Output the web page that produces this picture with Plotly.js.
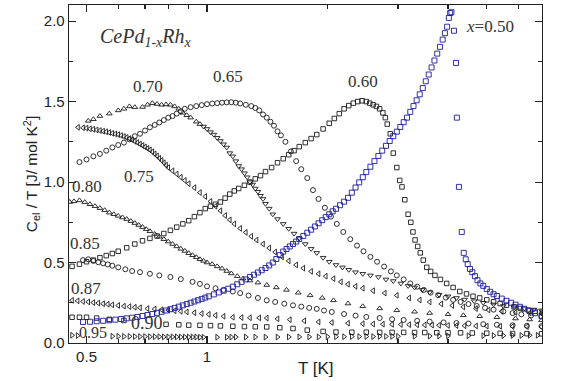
<!DOCTYPE html>
<html>
<head>
<meta charset="utf-8">
<script src="https://cdn.plot.ly/plotly-3.0.1.min.js"></script>
<style>html,body{margin:0;padding:0;background:#fff;}#chart{width:566px;height:381px;}</style>
</head>
<body>
<div id="chart"></div>
<script>
// x = 0.50 (blue squares)
const T_050 = [0.49,0.51,0.53,0.55,0.57,0.59,0.61,0.63,0.65,0.67,0.69,0.71,0.73,0.75,0.77,0.79,0.81,0.83,0.85,0.87,0.89,0.91,0.93,0.95,0.97,0.99,1.01,1.04,1.07,1.10,1.13,1.16,1.19,1.22,1.25,1.28,1.31,1.34,1.37,1.40,1.43,1.46,1.49,1.52,1.55,1.58,1.61,1.64,1.67,1.70,1.74,1.78,1.82,1.86,1.90,1.94,1.98,2.02,2.06,2.10,2.15,2.20,2.25,2.30,2.35,2.40,2.45,2.50,2.56,2.62,2.68,2.74,2.80,2.86,2.92,2.98,3.04,3.10,3.16,3.22,3.28,3.34,3.40,3.46,3.52,3.58,3.64,3.70,3.76,3.82,3.88,3.93,3.98,4.02,4.05,4.08,4.14,4.19,4.21,4.26,4.33,4.38,4.43,4.48,4.54,4.60,4.67,4.74,4.82,4.90,5.0,5.1,5.2,5.3,5.45,5.6,5.75,5.9,6.05,6.2,6.4,6.6,6.85];
const C_050 = [0.130,0.132,0.135,0.138,0.141,0.145,0.149,0.153,0.157,0.162,0.168,0.174,0.180,0.187,0.194,0.202,0.210,0.218,0.226,0.234,0.242,0.250,0.258,0.266,0.274,0.282,0.290,0.302,0.314,0.325,0.337,0.350,0.365,0.380,0.395,0.410,0.424,0.438,0.452,0.466,0.482,0.500,0.522,0.546,0.568,0.584,0.600,0.615,0.630,0.646,0.665,0.685,0.704,0.724,0.744,0.763,0.782,0.800,0.818,0.834,0.856,0.878,0.902,0.934,0.966,0.998,1.030,1.062,1.095,1.130,1.162,1.195,1.225,1.255,1.285,1.313,1.342,1.372,1.400,1.436,1.472,1.508,1.545,1.584,1.626,1.668,1.712,1.755,1.798,1.840,1.885,1.925,1.965,2.020,2.050,2.055,1.94,1.74,1.40,0.97,0.69,0.56,0.52,0.49,0.46,0.44,0.415,0.39,0.37,0.355,0.335,0.318,0.303,0.292,0.276,0.262,0.250,0.238,0.225,0.213,0.198,0.185,0.168];

// x = 0.60 (squares)
const T_060 = [0.46,0.48,0.50,0.52,0.54,0.56,0.58,0.60,0.63,0.66,0.69,0.72,0.75,0.78,0.81,0.84,0.87,0.90,0.93,0.96,0.99,1.02,1.05,1.08,1.11,1.14,1.17,1.20,1.24,1.28,1.32,1.36,1.40,1.45,1.50,1.55,1.60,1.65,1.70,1.76,1.82,1.88,1.95,2.02,2.08,2.14,2.20,2.26,2.32,2.38,2.44,2.50,2.55,2.60,2.65,2.70,2.75,2.79,2.82,2.87,2.92,2.98,3.03,3.07,3.12,3.18,3.23,3.27,3.31,3.36,3.41,3.47,3.54,3.62,3.71,3.83,3.97,4.12,4.28,4.45,4.62,4.80,5.0,5.2,5.4,5.6,5.85,6.07,6.35,6.6,6.88];
const C_060 = [0.476,0.49,0.505,0.515,0.53,0.543,0.556,0.57,0.592,0.615,0.635,0.65,0.665,0.68,0.70,0.72,0.74,0.76,0.785,0.81,0.835,0.85,0.862,0.876,0.90,0.925,0.945,0.96,0.98,1.00,1.02,1.04,1.065,1.09,1.12,1.145,1.17,1.195,1.22,1.245,1.27,1.295,1.33,1.365,1.395,1.425,1.455,1.475,1.49,1.50,1.505,1.50,1.49,1.48,1.47,1.455,1.43,1.40,1.36,1.30,1.18,1.09,1.01,0.97,0.89,0.80,0.75,0.69,0.64,0.60,0.56,0.515,0.47,0.445,0.42,0.395,0.37,0.345,0.32,0.305,0.29,0.28,0.268,0.256,0.245,0.235,0.225,0.215,0.205,0.197,0.19];

// x = 0.65 (circles)
const T_065 = [0.48,0.50,0.52,0.54,0.56,0.58,0.60,0.62,0.64,0.66,0.68,0.70,0.72,0.74,0.76,0.78,0.80,0.82,0.84,0.86,0.88,0.91,0.94,0.97,1.00,1.03,1.06,1.09,1.12,1.15,1.18,1.21,1.25,1.29,1.32,1.35,1.38,1.41,1.44,1.47,1.50,1.53,1.57,1.62,1.67,1.72,1.78,1.84,1.90,1.97,2.04,2.11,2.19,2.28,2.37,2.46,2.56,2.66,2.77,2.88,2.98,3.10,3.22,3.35,3.48,3.62,3.78,3.95,4.12,4.30,4.50,4.72,4.95,5.2,5.5,5.8,6.1,6.45,6.85];
const C_065 = [1.124,1.14,1.16,1.175,1.195,1.215,1.23,1.245,1.265,1.285,1.30,1.32,1.34,1.355,1.37,1.385,1.40,1.41,1.425,1.44,1.455,1.465,1.472,1.478,1.484,1.488,1.49,1.493,1.495,1.496,1.493,1.488,1.48,1.472,1.46,1.445,1.42,1.40,1.375,1.35,1.315,1.29,1.25,1.19,1.13,1.08,1.025,0.95,0.895,0.84,0.785,0.74,0.69,0.645,0.605,0.57,0.535,0.505,0.475,0.445,0.42,0.395,0.37,0.35,0.33,0.313,0.297,0.282,0.268,0.255,0.242,0.23,0.218,0.207,0.196,0.186,0.178,0.171,0.165];

// x = 0.70 (triangles: low-T branch and high-T branch)
const T_070a = [0.505,0.52,0.54,0.57,0.60,0.62,0.64,0.66,0.69,0.71,0.73,0.75,0.77,0.79,0.81,0.83,0.85,0.87,0.89,0.91,0.94,0.96];
const C_070a = [1.38,1.39,1.41,1.425,1.445,1.455,1.47,1.465,1.466,1.48,1.49,1.485,1.48,1.482,1.48,1.47,1.455,1.43,1.415,1.40,1.375,1.36];
const T_070b = [0.98,1.00,1.02,1.04,1.06,1.08,1.10,1.12,1.14,1.16,1.18,1.20,1.22,1.24,1.26,1.28,1.30,1.32,1.34,1.36,1.38,1.40,1.43,1.46,1.50,1.55,1.60,1.65,1.70,1.76,1.82,1.88,1.95,2.02,2.10,2.18,2.26,2.35,2.45,2.56,2.68,2.80,2.92,3.05,3.18,3.30,3.45,3.60,3.80,4.00,4.20,4.40,4.65,4.90,5.20,5.50,5.85,6.20,6.55,6.85];
const C_070b = [1.345,1.33,1.31,1.295,1.275,1.255,1.235,1.215,1.18,1.16,1.13,1.10,1.08,1.055,1.03,1.00,0.985,0.96,0.94,0.915,0.895,0.865,0.835,0.80,0.77,0.74,0.71,0.68,0.65,0.615,0.585,0.56,0.53,0.505,0.485,0.47,0.455,0.44,0.43,0.42,0.41,0.395,0.385,0.37,0.355,0.345,0.33,0.315,0.30,0.29,0.28,0.27,0.26,0.25,0.24,0.23,0.222,0.215,0.208,0.203];

// x = 0.75
const T_075 = [0.476,0.49,0.50,0.51,0.52,0.53,0.54,0.55,0.56,0.57,0.58,0.59,0.60,0.61,0.62,0.63,0.64,0.65,0.66,0.67,0.68,0.69,0.70,0.71,0.72,0.73,0.74,0.75,0.76,0.77,0.78,0.79,0.80,0.82,0.84,0.86,0.88,0.90,0.93,0.96,0.99,1.02,1.05,1.08,1.11,1.14,1.17,1.21,1.25,1.29,1.33,1.38,1.43,1.48,1.54,1.60,1.67,1.74,1.82,1.90,1.98,2.07,2.16,2.25,2.35,2.45,2.60,2.78,2.98,3.2,3.4,3.6,3.85,4.1,4.37,4.7,5.05,5.45,5.9,6.4,6.85];
const C_075 = [1.34,1.337,1.335,1.331,1.328,1.324,1.32,1.316,1.312,1.308,1.303,1.299,1.295,1.289,1.283,1.277,1.27,1.262,1.253,1.245,1.236,1.227,1.218,1.209,1.20,1.188,1.175,1.162,1.148,1.134,1.12,1.105,1.09,1.07,1.05,1.03,1.01,0.99,0.965,0.935,0.91,0.88,0.85,0.822,0.792,0.765,0.74,0.712,0.687,0.663,0.64,0.615,0.59,0.565,0.535,0.51,0.485,0.465,0.445,0.43,0.415,0.40,0.38,0.365,0.352,0.34,0.325,0.31,0.296,0.28,0.267,0.255,0.243,0.233,0.224,0.214,0.205,0.197,0.19,0.186,0.183];

// x = 0.80
const T_080 = [0.454,0.465,0.48,0.495,0.51,0.525,0.54,0.555,0.57,0.585,0.60,0.615,0.63,0.645,0.66,0.675,0.69,0.705,0.72,0.74,0.76,0.78,0.80,0.82,0.84,0.86,0.88,0.90,0.92,0.94,0.96,0.98,1.00,1.03,1.06,1.09,1.12,1.15,1.19,1.23,1.28,1.34,1.41,1.49,1.58,1.69,1.81,1.94,2.07,2.25,2.45,2.7,2.98,3.3,3.6,4.0,4.37,4.8,5.3,5.9,6.4,6.85];
const C_080 = [0.876,0.88,0.886,0.875,0.862,0.85,0.838,0.825,0.81,0.80,0.79,0.78,0.77,0.757,0.745,0.733,0.72,0.707,0.694,0.677,0.66,0.645,0.63,0.615,0.60,0.585,0.572,0.558,0.545,0.533,0.52,0.51,0.50,0.49,0.476,0.462,0.447,0.432,0.415,0.40,0.388,0.375,0.36,0.345,0.33,0.312,0.296,0.28,0.265,0.245,0.228,0.215,0.203,0.194,0.186,0.178,0.172,0.166,0.16,0.152,0.146,0.141];

// x = 0.85 (circles)
const T_085 = [0.49,0.505,0.52,0.535,0.55,0.565,0.58,0.60,0.625,0.65,0.68,0.72,0.76,0.81,0.86,0.92,0.96,1.00,1.05,1.10,1.16,1.21,1.27,1.34,1.41,1.48,1.56,1.64,1.72,1.80,1.88,1.96,2.05,2.2,2.35,2.5,2.7,2.9,3.1,3.35,3.6,3.9,4.2,4.5,4.9,5.3,5.8,6.3,6.85];
const C_085 = [0.515,0.52,0.51,0.502,0.495,0.488,0.48,0.47,0.458,0.447,0.44,0.43,0.42,0.41,0.397,0.38,0.367,0.352,0.34,0.33,0.32,0.31,0.295,0.28,0.265,0.255,0.244,0.234,0.226,0.218,0.212,0.202,0.193,0.18,0.17,0.162,0.155,0.148,0.143,0.138,0.133,0.128,0.124,0.121,0.117,0.113,0.11,0.107,0.105];

// x = 0.87
const T_087 = [0.46,0.475,0.49,0.505,0.52,0.535,0.55,0.565,0.58,0.60,0.62,0.64,0.66,0.68,0.71,0.74,0.77,0.80,0.83,0.86,0.89,0.93,0.97,1.01,1.05,1.10,1.16,1.22,1.28,1.35,1.41,1.50,1.61,1.75,1.90,2.05,2.25,2.45,2.6,2.75,2.9,3.05,3.2,3.35,3.5,3.65,3.8,4.0,4.2,4.4,4.7,5.0,5.4,5.8,6.3,6.85];
const C_087 = [0.265,0.262,0.258,0.255,0.251,0.248,0.244,0.241,0.237,0.233,0.229,0.226,0.222,0.219,0.214,0.211,0.207,0.204,0.200,0.197,0.193,0.188,0.183,0.178,0.172,0.166,0.16,0.158,0.157,0.156,0.155,0.150,0.145,0.138,0.131,0.127,0.123,0.12,0.118,0.117,0.116,0.115,0.114,0.113,0.112,0.111,0.11,0.109,0.108,0.107,0.106,0.105,0.104,0.103,0.102,0.10];

// x = 0.90 (squares)
const T_090 = [0.46,0.48,0.50,0.53,0.57,0.62,0.79,0.85,0.90,0.96,1.02,1.08,1.16,1.24,1.32,1.41,1.52,1.64,1.78,1.95,2.1,2.3,2.5,2.7,2.9,3.1,3.3,3.5,3.75,4.0,4.3,4.6,5.0,5.4,5.8,6.3,6.85];
const C_090 = [0.16,0.16,0.16,0.155,0.147,0.14,0.116,0.113,0.111,0.11,0.108,0.106,0.104,0.102,0.101,0.10,0.095,0.09,0.08,0.072,0.068,0.067,0.067,0.066,0.066,0.066,0.065,0.065,0.064,0.064,0.063,0.062,0.061,0.06,0.059,0.058,0.057];

// x = 0.95
const T_095 = [0.46,0.475,0.58,0.60,0.62,0.64,0.66,0.68,0.70,0.72,0.74,0.76,0.78,0.80,0.82,0.84,0.86,0.88,0.90,0.92,0.94,0.96,0.98,1.06,1.12,1.15,1.18,1.25,1.32,1.40,1.50,1.60,1.70,1.80,1.9,2.0,2.1,2.2,2.3,2.4,2.5,2.6,2.7,2.8,2.9,3.0,3.3,3.6,3.8,4.0,4.5,4.9,5.2,5.5,5.8,6.1,6.4,6.7];
const C_095 = [0.048,0.046,0.042,0.042,0.041,0.041,0.040,0.040,0.040,0.039,0.039,0.039,0.038,0.038,0.038,0.038,0.037,0.037,0.037,0.037,0.037,0.036,0.036,0.036,0.036,0.037,0.037,0.037,0.037,0.037,0.037,0.038,0.038,0.038,0.038,0.039,0.039,0.039,0.04,0.04,0.04,0.04,0.041,0.041,0.041,0.041,0.042,0.043,0.043,0.044,0.045,0.045,0.046,0.046,0.047,0.047,0.048,0.048];

const seriesLabels = ['x=0.50','0.60','0.65','0.70','0.75','0.80','0.85','0.87','0.90','0.95'];
const xTickVals = [0.5, 1];
const xTickText = ['0.5', '1'];
const xMinorVals = [0.6, 0.7, 0.8, 0.9, 2, 3, 4, 5, 6];

const BLACK = '#1a1a1a';
const BLUE = '#1c1ca0';
function tr(x, y, sym, col, sz) {
  return {x: x, y: y, type: 'scatter', mode: 'markers', hoverinfo: 'skip',
    marker: {symbol: sym, size: sz || 5, color: col, line: {color: col, width: 0.9}}};
}
const data = [
  tr(T_095, C_095, 'triangle-right-open', BLACK, 5),
  tr(T_090, C_090, 'square-open', BLACK, 4.5),
  tr(T_087, C_087, 'triangle-left-open', BLACK, 5),
  tr(T_085, C_085, 'circle-open', BLACK, 5),
  tr(T_080, C_080, 'triangle-up-open', BLACK, 5),
  tr(T_075, C_075, 'triangle-left-open', BLACK, 5),
  tr(T_070a, C_070a, 'triangle-up-open', BLACK, 5),
  tr(T_070b, C_070b, 'triangle-down-open', BLACK, 5),
  tr(T_065, C_065, 'circle-open', BLACK, 5),
  tr(T_060, C_060, 'square-open', BLACK, 4.5),
  tr(T_050, C_050, 'square-open', BLUE, 5)
];

const serif = 'Liberation Serif, Times New Roman, serif';
const sans = 'Liberation Sans, Arial, sans-serif';
function lab(text, x, y, size) {
  return {text: text, xref: 'paper', yref: 'paper', x: x, y: y, xanchor: 'center', yanchor: 'middle',
    showarrow: false, font: {family: serif, size: size || 17, color: '#333'}};
}
const annotations = [
  lab('<i>CePd<sub>1-x</sub>Rh<sub>x</sub></i>', 0.163, 0.905, 20),
  lab('0.70', 0.167, 0.760),
  lab('0.65', 0.336, 0.787),
  lab('0.60', 0.622, 0.775),
  lab('<i>x</i>=0.50', 0.890, 0.935),
  lab('0.75', 0.148, 0.494),
  lab('0.80', 0.038, 0.462),
  lab('0.85', 0.034, 0.293),
  lab('0.87', 0.036, 0.160),
  lab('0.90', 0.165, 0.059, 18),
  lab('0.95', 0.051, 0.030, 16),
  {text: 'T [K]', xref: 'paper', yref: 'paper', x: 0.522, y: -0.075, xanchor: 'center', yanchor: 'middle',
    showarrow: false, font: {family: sans, size: 17, color: '#222'}}
];

const layout = {
  width: 566, height: 381,
  margin: {l: 69, r: 24, t: 5, b: 38},
  paper_bgcolor: '#fff', plot_bgcolor: '#fff',
  showlegend: false,
  font: {family: sans, size: 15, color: '#222'},
  xaxis: {
    type: 'log', range: [Math.log10(0.452), Math.log10(6.87)],
    tickmode: 'array', tickvals: xTickVals, ticktext: xTickText,
    ticks: 'inside', ticklen: 7, tickwidth: 1.1, tickcolor: '#222',
    minor: {tickmode: 'array', tickvals: xMinorVals, ticks: 'inside', ticklen: 4, tickwidth: 1.1, tickcolor: '#222'},
    showline: true, linecolor: '#222', linewidth: 1.3, mirror: 'ticks',
    showgrid: false, zeroline: false,
    tickfont: {family: sans, size: 15, color: '#222'}
  },
  yaxis: {
    range: [0, 2.1], tickmode: 'linear', tick0: 0, dtick: 0.5, tickformat: '.1f',
    ticks: 'inside', ticklen: 7, tickwidth: 1.1, tickcolor: '#222',
    minor: {dtick: 0.25, ticks: 'inside', ticklen: 4, tickwidth: 1.1, tickcolor: '#222'},
    showline: true, linecolor: '#222', linewidth: 1.3, mirror: 'ticks',
    showgrid: false, zeroline: false,
    tickfont: {family: sans, size: 15, color: '#222'},
    title: {text: 'C<sub>el</sub> / T [J/ mol K<sup>2</sup>]', font: {family: sans, size: 15.5, color: '#222'}, standoff: 2}
  },
  annotations: annotations
};

Plotly.newPlot('chart', data, layout, {staticPlot: true, displayModeBar: false});
</script>
</body>
</html>
